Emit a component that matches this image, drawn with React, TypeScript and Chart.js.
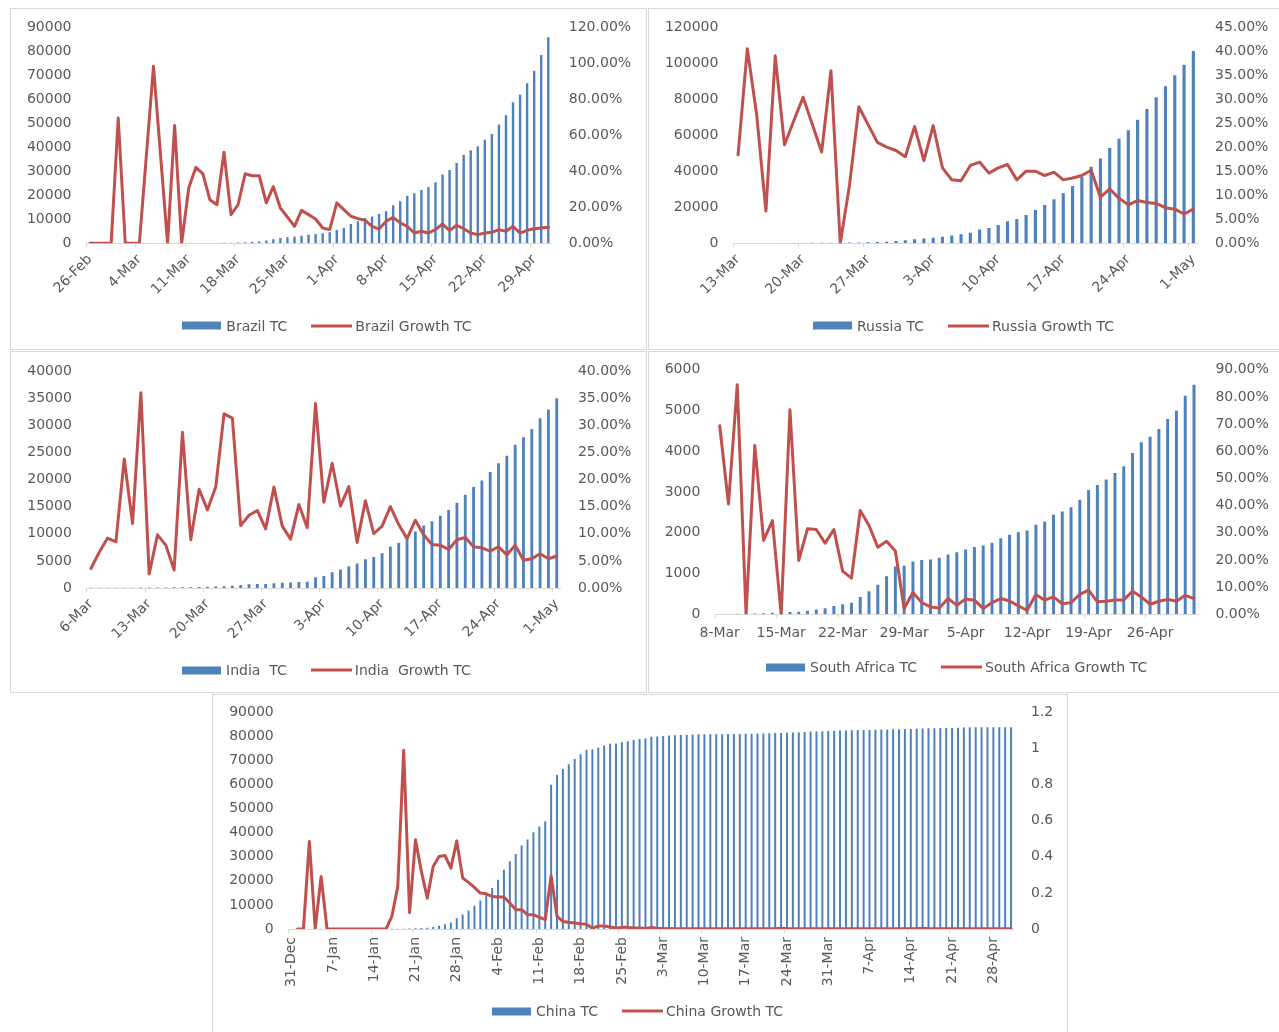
import React, { useEffect, useRef } from 'react';
import { Chart, registerables } from 'chart.js';

Chart.register(...registerables);

const FONT_FAMILY = "'DejaVu Sans', 'Liberation Sans', sans-serif";
const TEXT = '#595959';
const BLUE = '#4f81bd';
const RED = '#c0504d';
const AXIS = '#d9d9d9';
const BORDER = '#d9d9d9';

Chart.defaults.font.family = FONT_FAMILY;
Chart.defaults.font.size = 14;
Chart.defaults.color = TEXT;

const MONTHS = ['Jan', 'Feb', 'Mar', 'Apr', 'May', 'Jun', 'Jul', 'Aug', 'Sep', 'Oct', 'Nov', 'Dec'];
function dayLabels(y: number, m: number, d: number, count: number): string[] {
  const out: string[] = [];
  for (let i = 0; i < count; i++) {
    const dt = new Date(Date.UTC(y, m - 1, d + i));
    out.push(`${dt.getUTCDate()}-${MONTHS[dt.getUTCMonth()]}`);
  }
  return out;
}

// ---------- categories ----------
const brazilDates = dayLabels(2020, 2, 26, 66); // 26-Feb .. 1-May
const russiaDates = dayLabels(2020, 3, 13, 50); // 13-Mar .. 1-May
const indiaDates = dayLabels(2020, 3, 6, 57); // 6-Mar .. 1-May
const southAfricaDates = dayLabels(2020, 3, 8, 55); // 8-Mar .. 1-May
const chinaDates = dayLabels(2019, 12, 31, 123); // 31-Dec .. 1-May

// ---------- Brazil ----------
const brazilTC = [
  0, 1, 1, 1, 2, 2, 2, 2, 3,
  4, 8, 13, 19, 25, 34, 52, 77, 98, 121, 200, 234, 291, 428, 621,
  800, 1200, 1700, 2200, 2500, 2800, 3100, 3600, 3900, 4200, 4600,
  5500, 6400, 8000, 9200, 10500, 11100, 12200, 13300, 15800, 17500, 19800, 20800, 22200, 23400,
  25400, 28600, 30500, 33400, 36800, 38700, 40400, 43100, 45500, 49400, 53300, 58700, 61900,
  66600, 71800, 78300, 85700,
];
const brazilGrowth = [
  0, 0, 0, 0, 69.5, 0, 0, 0, 49, 98.2, 49, 0, 65.4, 0, 30.7, 42.1, 38.6, 24.2, 21.4, 50.5,
  15.9, 21.4, 38.6, 37.5, 37.5, 22.4, 31.4, 19.6, 14.6, 9.4, 18.3, 15.9, 13.5, 8.5, 7.6,
  22.4, 18.7, 15.0, 13.7, 12.8, 9.4, 7.9, 12.2, 14.4, 11.3, 9.4, 5.7, 6.7, 5.7, 7.6, 10.7,
  7.0, 10.0, 8.1, 5.7, 4.8, 5.7, 6.1, 7.6, 6.7, 9.4, 5.7, 7.2, 8.1, 8.5, 8.9,
];

// ---------- Russia ----------
const russiaTC = [
  34, 45, 59, 63, 90, 114, 147, 199, 253, 306, 367, 367, 420, 500, 560,
  700, 900, 1300, 1700, 2200, 2600, 3100, 3700, 4300, 5000, 5900, 7600, 8500, 10200, 12200,
  13500, 15700, 18500, 21300, 24400, 27700, 31800, 36800, 42500, 47000, 52900, 58000, 62700,
  68600, 74500, 81000, 87100, 93300, 99100, 106700,
];
const russiaGrowth = [
  18.4, 40.5, 26.8, 6.7, 39.0, 20.5, 25.5, 30.4, 24.7, 19.0, 35.9, 0, 12.2, 28.4, 24.7,
  21.0, 20.0, 19.3, 18.0, 24.3, 17.2, 24.5, 15.7, 13.2, 13.0, 16.2, 16.9, 14.6, 15.7, 16.4,
  13.2, 15.0, 15.0, 14.1, 14.8, 13.2, 13.6, 14.1, 15.2, 9.6, 11.3, 9.4, 8.0, 8.9, 8.5,
  8.3, 7.4, 7.1, 6.1, 7.1,
];

// ---------- India ----------
const indiaTC = [
  31, 34, 39, 43, 56, 62, 73, 82, 102, 113, 119, 142, 156, 194, 244, 280,
  330, 430, 550, 680, 720, 760, 860, 980, 1020, 1100, 1170, 2000, 2200,
  2900, 3400, 4000, 4500, 5300, 5700, 6400, 7600, 8300, 9400, 10400, 11500, 12300, 13300,
  14400, 15700, 17200, 18600, 19800, 21400, 23000, 24400, 26400, 27800, 29300, 31300, 32900, 35000,
];
const indiaGrowth = [
  3.6, 6.6, 9.2, 8.5, 23.8, 11.9, 36.0, 2.6, 9.8, 7.9, 3.3, 28.7, 8.9, 18.2, 14.4, 18.6,
  32.1, 31.3, 11.5, 13.4, 14.3, 10.9, 18.6, 11.4, 9.0, 15.4, 11.1, 34.0, 15.8, 23.0,
  15.1, 18.7, 8.4, 16.1, 10.0, 11.4, 15.0, 11.7, 9.1, 12.5, 9.8, 8.0, 7.9, 7.1, 8.9,
  9.3, 7.6, 7.4, 6.8, 7.6, 6.1, 7.9, 5.1, 5.4, 6.3, 5.4, 5.9,
];

// ---------- South Africa ----------
const southAfricaTC = [
  3, 7, 13, 13, 17, 24, 38, 38,
  55, 64, 85, 116, 150, 204, 245, 286, 424, 563, 727, 931, 1176, 1192, 1298, 1331, 1347,
  1388, 1469, 1520, 1592, 1649, 1690, 1755, 1869, 1951, 2016, 2057, 2196, 2278, 2441, 2522,
  2629, 2808, 3053, 3176, 3306, 3469, 3633, 3959, 4220, 4359, 4547, 4792, 4996, 5363, 5633,
];
const southAfricaGrowth = [
  69.4, 40.6, 84.5, 0, 62.1, 27.2, 34.5, 0, 75.3, 19.8, 31.5, 31.2, 26.2, 31.2, 15.9, 13.3,
  38.2, 32.7, 24.7, 26.9, 23.3, 2.1, 8.0, 4.3, 2.7, 2.3, 5.8, 3.3, 5.6, 5.2, 2.1, 4.3, 5.8,
  4.9, 3.1, 1.5, 7.3, 5.2, 6.4, 3.9, 4.3, 7.3, 8.9, 4.6, 4.8, 5.3, 5.3, 8.5, 6.4, 3.7, 4.8,
  5.5, 4.8, 7.0, 5.8,
];

// ---------- China ----------
const chinaTC = [
  27, 27, 27, 44, 44, 59, 59, 59, 59, 59, 59, 59, 59, 59, 59, 59, 59, 62, 75, 150, 200,
  290, 440, 570, 830, 1300, 2000, 2700, 4500, 6000, 7700, 9700, 11800, 14200, 17000, 20500,
  24600, 28100, 31100, 34700, 37200, 40200, 42600, 44700,
  59900, 64000, 66500, 68400, 70600, 72600, 74400, 74700, 75300, 76200, 76900, 77000, 77600,
  78000, 78500, 78900,
  79100, 79800, 80000, 80200, 80400, 80500, 80600, 80700, 80800, 80900,
  80900, 80900, 80900, 80900, 81000, 81000, 81000, 81100, 81100, 81200,
  81200, 81300, 81400, 81400, 81500, 81600, 81700, 81800, 82000, 82000,
  82100, 82200, 82300, 82400, 82400, 82500, 82600, 82700, 82700, 82800,
  82800, 82900, 83000, 83000, 83100, 83100, 83200, 83300, 83400, 83400,
  83500, 83500, 83500, 83600, 83700, 83800, 83800, 83800, 83800, 83800,
  83800, 83800, 83800,
];
const chinaGrowth: (number | null)[] = [
  null, 0, 0, 0.485, 0, 0.291, 0, 0, 0, 0, 0, 0, 0, 0, 0, 0, 0, 0.07, 0.236, 0.99, 0.09,
  0.494, 0.319, 0.171, 0.346, 0.402, 0.407, 0.337, 0.488, 0.282, 0.258, 0.23, 0.199, 0.195,
  0.18, 0.177, 0.177, 0.144, 0.107, 0.107, 0.079, 0.079, 0.065, 0.052, 0.295, 0.07, 0.042,
  0.037, 0.033, 0.029, 0.026, 0.004, 0.017, 0.017, 0.011, 0.005, 0.009, 0.009, 0.006, 0.005,
  0.003, 0.009, 0.004, 0.002, 0.003, 0.002, 0.001, 0.001, 0.001, 0.002,
  0.001, 0.001, 0.001, 0.001, 0.001, 0.001, 0.001, 0.001, 0.002, 0.001,
  0.001, 0.001, 0.002, 0.004, 0.002, 0.001, 0.001, 0.001, 0.002, 0.001,
  0.001, 0.001, 0.001, 0.001, 0.001, 0.001, 0.001, 0.001, 0.001, 0.001,
  0.001, 0.001, 0.001, 0.001, 0.001, 0.001, 0.001, 0.004, 0.001, 0.001,
  0.001, 0.001, 0.001, 0.001, 0.001, 0.001, 0.001, 0.001, 0.001, 0.001,
  0.001, 0.001, 0.001,
];

const pct2 = (v: number) => `${Number(v).toFixed(2)}%`;
const plain1 = (v: number) => String(Math.round(Number(v) * 10) / 10);

type PanelCfg = {
  key: string;
  box: { left: number; top: number; width: number; height: number };
  area: { left: number; right: number; top: number; bottom: number };
  labels: string[];
  tc: number[];
  growth: (number | null)[];
  yMax: number;
  yStep: number;
  y1Max: number;
  y1Step: number;
  y1Fmt: (v: number) => string;
  rotation: number;
  xPad: number;
  tcName: string;
  growthName: string;
  legend: { x: number; y: number };
};

const panels: PanelCfg[] = [
  {
    key: 'brazil',
    box: { left: 10, top: 8, width: 637, height: 342 },
    area: { left: 75.5, right: 540.8, top: 18, bottom: 234.3 },
    labels: brazilDates, tc: brazilTC, growth: brazilGrowth,
    yMax: 90000, yStep: 10000, y1Max: 120, y1Step: 20, y1Fmt: pct2,
    rotation: 45, xPad: 4,
    tcName: 'Brazil TC', growthName: 'Brazil Growth TC',
    legend: { x: 182.3, y: 325.8 },
  },
  {
    key: 'russia',
    box: { left: 648, top: 8, width: 640, height: 342 },
    area: { left: 84.4, right: 549, top: 18, bottom: 234.3 },
    labels: russiaDates, tc: russiaTC, growth: russiaGrowth,
    yMax: 120000, yStep: 20000, y1Max: 45, y1Step: 5, y1Fmt: pct2,
    rotation: 45, xPad: 4,
    tcName: 'Russia TC', growthName: 'Russia Growth TC',
    legend: { x: 813, y: 325.8 },
  },
  {
    key: 'india',
    box: { left: 10, top: 351, width: 637, height: 342 },
    area: { left: 75.8, right: 549.9, top: 19, bottom: 236 },
    labels: indiaDates, tc: indiaTC, growth: indiaGrowth,
    yMax: 40000, yStep: 5000, y1Max: 40, y1Step: 5, y1Fmt: pct2,
    rotation: 45, xPad: 4,
    tcName: 'India  TC', growthName: 'India  Growth TC',
    legend: { x: 182, y: 670 },
  },
  {
    key: 'southafrica',
    box: { left: 648, top: 351, width: 640, height: 342 },
    area: { left: 66.3, right: 549.4, top: 17.8, bottom: 262.3 },
    labels: southAfricaDates, tc: southAfricaTC, growth: southAfricaGrowth,
    yMax: 6000, yStep: 1000, y1Max: 90, y1Step: 10, y1Fmt: pct2,
    rotation: 0, xPad: 7,
    tcName: 'South Africa TC', growthName: 'South Africa Growth TC',
    legend: { x: 766, y: 667 },
  },
  {
    key: 'china',
    box: { left: 212, top: 694, width: 856, height: 345 },
    area: { left: 75.7, right: 801, top: 17.3, bottom: 234 },
    labels: chinaDates, tc: chinaTC, growth: chinaGrowth,
    yMax: 90000, yStep: 10000, y1Max: 1.2, y1Step: 0.2, y1Fmt: plain1,
    rotation: 90, xPad: 4,
    tcName: 'China TC', growthName: 'China Growth TC',
    legend: { x: 492, y: 1011 },
  },
];

function ComboPanel({ cfg }: { cfg: PanelCfg }) {
  const ref = useRef<HTMLCanvasElement>(null);
  const cw = cfg.box.width - 2;
  const ch = cfg.box.height - 2;

  useEffect(() => {
    const canvas = ref.current;
    if (!canvas) return;
    const tickFont = { family: FONT_FAMILY, size: 14 };
    const chart = new Chart(canvas, {
      type: 'bar',
      data: {
        labels: cfg.labels,
        datasets: [
          {
            type: 'bar',
            label: cfg.tcName,
            data: cfg.tc,
            backgroundColor: BLUE,
            borderWidth: 0,
            barPercentage: 0.34,
            categoryPercentage: 1,
            yAxisID: 'y',
            order: 2,
          },
          {
            type: 'line',
            label: cfg.growthName,
            data: cfg.growth,
            borderColor: RED,
            backgroundColor: RED,
            borderWidth: 3,
            pointRadius: 0,
            tension: 0,
            fill: false,
            borderJoinStyle: 'round',
            borderCapStyle: 'round',
            yAxisID: 'y1',
            order: 1,
          },
        ],
      } as any,
      options: {
        responsive: false,
        maintainAspectRatio: false,
        animation: false,
        events: [],
        devicePixelRatio: 1,
        layout: { padding: { top: cfg.area.top, left: 0, right: 0, bottom: 0 } },
        plugins: { legend: { display: false }, tooltip: { enabled: false } },
        scales: {
          x: {
            type: 'category',
            offset: true,
            grid: {
              display: true,
              offset: true,
              drawOnChartArea: false,
              drawTicks: true,
              tickLength: 4,
              lineWidth: 1,
              color: (ctx: any) => (ctx.index % 7 === 0 ? AXIS : 'rgba(0,0,0,0)'),
            },
            border: { display: true, color: AXIS, width: 1 },
            ticks: {
              autoSkip: false,
              minRotation: cfg.rotation,
              maxRotation: cfg.rotation,
              padding: cfg.xPad,
              color: TEXT,
              font: tickFont,
              callback: (_v: any, i: number) => (i % 7 === 0 ? cfg.labels[i] : ''),
            },
            afterFit: (s: any) => {
              s.height = ch - cfg.area.bottom;
              s.paddingLeft = 0;
              s.paddingRight = 0;
            },
          },
          y: {
            position: 'left',
            min: 0,
            max: cfg.yMax,
            grid: { display: false, drawTicks: false },
            border: { display: false },
            ticks: {
              stepSize: cfg.yStep,
              padding: 15,
              color: TEXT,
              font: tickFont,
              callback: (v: any) => String(v),
            },
            afterFit: (s: any) => {
              s.width = cfg.area.left;
              s.paddingTop = 0;
              s.paddingBottom = 0;
            },
          },
          y1: {
            position: 'right',
            min: 0,
            max: cfg.y1Max,
            grid: { display: false, drawTicks: false },
            border: { display: false },
            ticks: {
              stepSize: cfg.y1Step,
              padding: 17,
              color: TEXT,
              font: tickFont,
              callback: (v: any) => cfg.y1Fmt(v),
            },
            afterFit: (s: any) => {
              s.width = cw - cfg.area.right;
              s.paddingTop = 0;
              s.paddingBottom = 0;
            },
          },
        },
      } as any,
    });
    return () => chart.destroy();
  }, []);

  const innerLeft = cfg.box.left + 1;
  const innerTop = cfg.box.top + 1;
  return (
    <div
      style={{
        position: 'absolute',
        left: cfg.box.left,
        top: cfg.box.top,
        width: cfg.box.width,
        height: cfg.box.height,
        border: `1px solid ${BORDER}`,
        boxSizing: 'border-box',
        background: '#fff',
        overflow: 'hidden',
      }}
    >
      <canvas
        ref={ref}
        width={cw}
        height={ch}
        style={{ position: 'absolute', left: 0, top: 0, width: cw, height: ch, display: 'block' }}
      />
      <div
        style={{
          position: 'absolute',
          left: cfg.legend.x - innerLeft,
          top: cfg.legend.y - innerTop,
          transform: 'translateY(-50%)',
          display: 'flex',
          alignItems: 'center',
          whiteSpace: 'pre',
          fontFamily: FONT_FAMILY,
          fontSize: 14,
          lineHeight: '17px',
          color: TEXT,
        }}
      >
        <span style={{ display: 'inline-block', width: 39, height: 8, background: BLUE }} />
        <span style={{ marginLeft: 5 }}>{cfg.tcName}</span>
        <span style={{ display: 'inline-block', width: 41, height: 3, background: RED, marginLeft: 24 }} />
        <span style={{ marginLeft: 3 }}>{cfg.growthName}</span>
      </div>
    </div>
  );
}

export default function App() {
  return (
    <div
      style={{
        position: 'fixed',
        left: 0,
        top: 0,
        width: 1279,
        height: 1032,
        overflow: 'hidden',
        background: '#fff',
      }}
    >
      {panels.map((p) => (
        <ComboPanel key={p.key} cfg={p} />
      ))}
    </div>
  );
}
